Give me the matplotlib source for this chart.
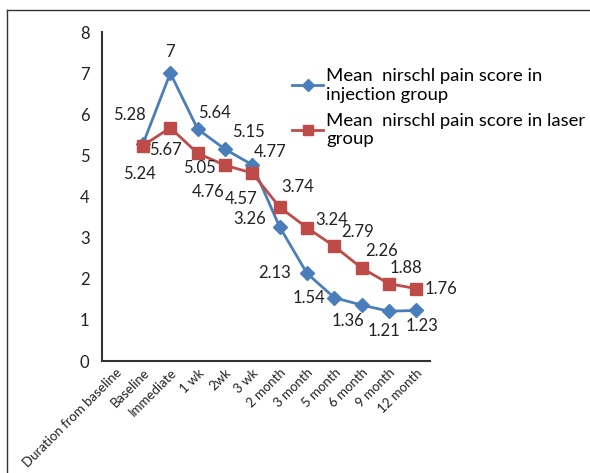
import matplotlib
matplotlib.use("Agg")
import matplotlib.pyplot as plt
from matplotlib.lines import Line2D

plt.rcParams['font.family'] = ['Lato', 'DejaVu Sans']

categories = ["Duration from baseline", "Baseline", "Immediate", "1 wk", "2wk", "3 wk",
              "2 month", "3 month", "5 month", "6 month", "9 month", "12 month"]
injection = [5.28, 7, 5.64, 5.15, 4.77, 3.26, 2.13, 1.54, 1.36, 1.21, 1.23]
laser = [5.24, 5.67, 5.05, 4.76, 4.57, 3.74, 3.24, 2.79, 2.26, 1.88, 1.76]
inj_labels = ["5.28", "7", "5.64", "5.15", "4.77", "3.26", "2.13", "1.54", "1.36", "1.21", "1.23"]
las_labels = ["5.24", "5.67", "5.05", "4.76", "4.57", "3.74", "3.24", "2.79", "2.26", "1.88", "1.76"]

inj_off = [(-14, 29), (0, 21), (17, 16), (23, 17), (18, 13), (-30, 8), (-32, 0),
           (-25, 0), (-14, -16), (-5, -20), (6, -16)]
las_off = [(-4, -28), (-5, -22), (2, -15), (-17, -27), (-11, -26), (18, 20), (25, 8),
           (23, 14), (20, 17), (17, 16), (25, 0)]

blue = "#4A7EBB"
red = "#BE4B48"

fig = plt.figure(figsize=(5.9, 4.73), dpi=100)
ax = fig.add_axes([102/590, 1-361/473, (430-102)/590, (361-32)/473])

x = list(range(len(categories)))
xs = x[1:]
ax.plot(xs, injection, color=blue, lw=2, marker='D', ms=7, mec=blue, mfc=blue, zorder=3)
ax.plot(xs, laser, color=red, lw=2, marker='s', ms=9, mec=red, mfc=red, zorder=3)

px = 72/100
for xi, v, t, (dx, dy) in zip(xs, injection, inj_labels, inj_off):
    ax.annotate(t, (xi, v), xytext=(dx*px, dy*px), textcoords='offset points',
                ha='center', va='center', fontsize=12, color='#222222')
for xi, v, t, (dx, dy) in zip(xs, laser, las_labels, las_off):
    ax.annotate(t, (xi, v), xytext=(dx*px, dy*px), textcoords='offset points',
                ha='center', va='center', fontsize=12, color='#222222')

ax.set_xlim(-0.5, len(categories)-0.5)
ax.set_ylim(0, 8)
ax.set_yticks(range(0, 9))
ax.set_xticks(x)
ax.set_xticklabels(categories, rotation=45, ha='right', rotation_mode='anchor', fontsize=9.5)
ax.tick_params(axis='both', length=0, colors='#222222')
ax.tick_params(axis='y', labelsize=12, pad=9)
ax.tick_params(axis='x', pad=4)
for s in ['top', 'right']:
    ax.spines[s].set_visible(False)
for s in ['left', 'bottom']:
    ax.spines[s].set_color('#333333')
    ax.spines[s].set_linewidth(1.5)

handles = [Line2D([], [], color=blue, lw=2, marker='D', ms=6),
           Line2D([], [], color=red, lw=2, marker='s', ms=7)]
fig.legend(handles, ["Mean  nirschl pain score in\ninjection group",
                     "Mean  nirschl pain score in laser\ngroup"],
           loc='upper left', bbox_to_anchor=(292/590, 1-68/473), frameon=False,
           fontsize=13.3, handlelength=1.7, handletextpad=0.15, labelspacing=0.55,
           borderaxespad=0, borderpad=0)

fig.add_artist(Line2D([7/590, 1], [1-10/473, 1-10/473], color='#333333', lw=1))
fig.add_artist(Line2D([7/590, 7/590], [0, 1-10/473], color='#333333', lw=1))

fig.savefig("out.png", dpi=100)
